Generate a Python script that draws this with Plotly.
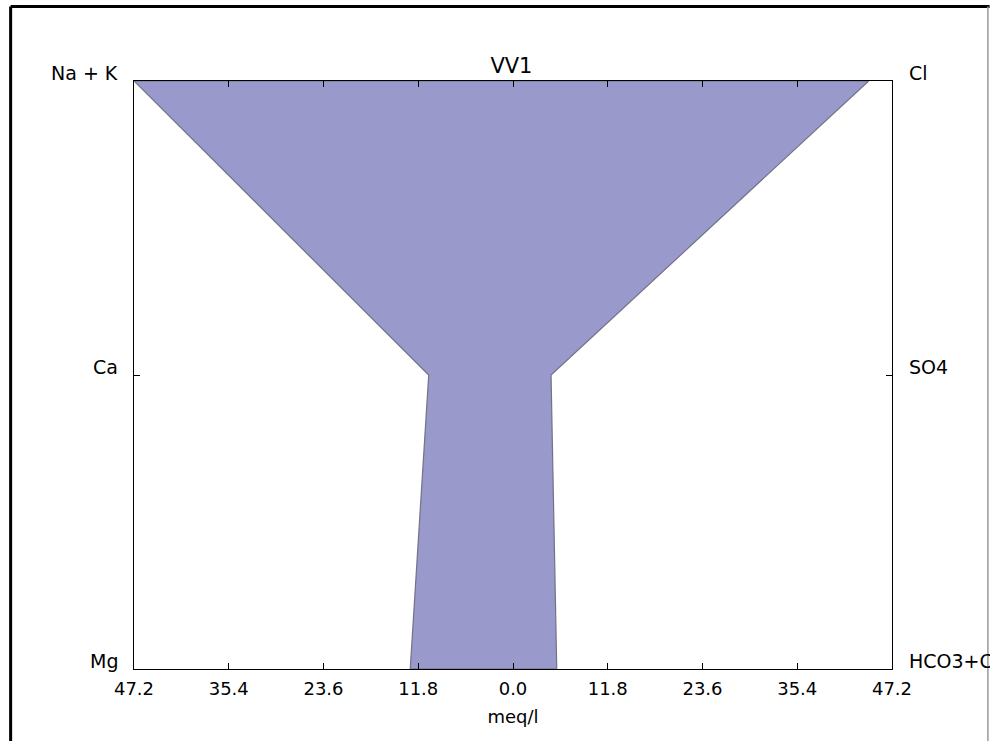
import plotly.graph_objects as go

# ---- data ----
title_text = "VV1"
cation_labels = ["Na + K", "Ca", "Mg"]
anion_labels = ["Cl", "SO4", "HCO3+CO3"]
cation_values = [47.2, 10.5, 12.8]   # meq/l
anion_values = [44.3, 4.74, 5.45]    # meq/l
level_positions = [2, 1, 0]
x_tick_values = [-47.2, -35.4, -23.6, -11.8, 0.0, 11.8, 23.6, 35.4, 47.2]
x_tick_labels = ["47.2", "35.4", "23.6", "11.8", "0.0", "11.8", "23.6", "35.4", "47.2"]
x_title = "meq/l"

FONT = "DejaVu Sans"

# polygon: cations on the left (negative), anions on the right
poly_x = [-v for v in cation_values] + anion_values[::-1] + [-cation_values[0]]
poly_y = level_positions + level_positions[::-1] + [level_positions[0]]

fig = go.Figure()
fig.add_trace(go.Scatter(
    x=poly_x, y=poly_y, mode="lines", fill="toself",
    fillcolor="#9999cc",
    line=dict(color="rgba(105,105,125,0.9)", width=1.2),
    hoverinfo="skip", showlegend=False,
))

xmax = max(cation_values + anion_values)

fig.update_layout(
    width=990, height=741,
    margin=dict(l=133.5, r=97.7, t=81, b=72.3, autoexpand=False),
    paper_bgcolor="white", plot_bgcolor="white",
    font=dict(family=FONT, size=18, color="black"),
    title=dict(text=title_text, x=0.5166, xanchor="center",
               y=1 - 65.5 / 741, yanchor="middle", yref="container",
               font=dict(family=FONT, size=21, color="black")),
    showlegend=False,
)

fig.update_xaxes(
    range=[-xmax, xmax], tickvals=x_tick_values, ticktext=x_tick_labels,
    showgrid=False, zeroline=False, showline=True, linecolor="black", linewidth=1.3,
    mirror="ticks", ticks="inside", ticklen=6, tickcolor="black", tickwidth=1,
    tickfont=dict(family=FONT, size=18, color="black"),
    ticklabelstandoff=3,
    title=dict(text=x_title, font=dict(family=FONT, size=18, color="black"), standoff=12),
)
fig.update_yaxes(
    range=[0, 2], tickvals=level_positions, showticklabels=False,
    showgrid=False, zeroline=False, showline=True, linecolor="black", linewidth=1.3,
    mirror="ticks", ticks="inside", ticklen=6, tickcolor="black", tickwidth=1,
)

# level labels on both sides (shifted up, matplotlib center_baseline style)
for lab, pos in zip(cation_labels, level_positions):
    fig.add_annotation(text=lab, x=0, xref="paper", y=pos, yref="y",
                       xanchor="right", yanchor="middle", xshift=-14, yshift=8,
                       showarrow=False, font=dict(family=FONT, size=19, color="black"))
for lab, pos in zip(anion_labels, level_positions):
    fig.add_annotation(text=lab, x=1, xref="paper", y=pos, yref="y",
                       xanchor="left", yanchor="middle", xshift=15, yshift=8,
                       showarrow=False, font=dict(family=FONT, size=19, color="black"))

# outer frame of the screenshot
W = 758.8
H = 587.7
def px(xp):
    return (xp - 133.5) / W
def py(yp):
    return (668.7 - yp) / H
fig.add_shape(type="line", xref="paper", yref="paper",
              x0=px(10), x1=px(10), y0=py(6.5), y1=py(760),
              line=dict(color="black", width=3))
fig.add_shape(type="line", xref="paper", yref="paper",
              x0=px(10), x1=px(990), y0=py(6.5), y1=py(6.5),
              line=dict(color="black", width=3))
fig.add_shape(type="line", xref="paper", yref="paper",
              x0=px(988.3), x1=px(988.3), y0=py(6.5), y1=py(760),
              line=dict(color="#999999", width=1.5))

fig.write_html(
    "out.html",
    config={"displayModeBar": False},
    post_script="document.body.style.margin='0';document.body.style.overflow='hidden';",
)
